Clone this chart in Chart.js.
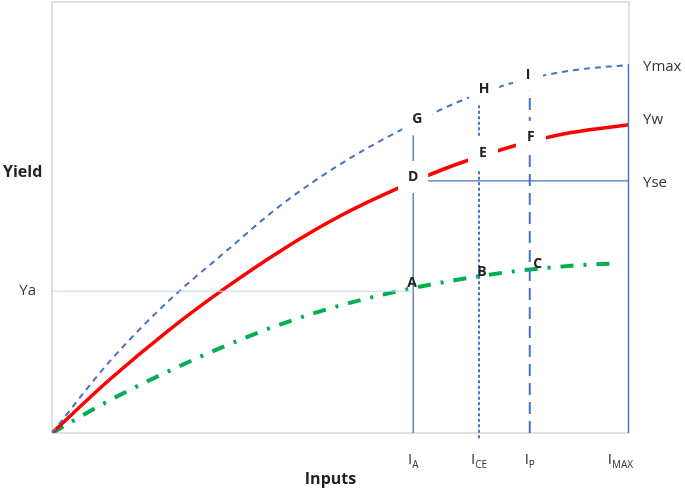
<!DOCTYPE html>
<html>
<head>
<meta charset="utf-8">
<script src="https://cdn.jsdelivr.net/npm/chart.js@4"></script>
<style>
    body { margin: 0; background: #fff; }
</style>
</head>
<body>
<canvas id="yieldChart" width="685" height="490"></canvas>
<script>
// input levels on the x axis: IA, ICE, IP, IMAX
const inputLevels = [62.6, 74.0, 82.8, 100];
const inputTickLabels = [['I', 'A'], ['I', 'CE'], ['I', 'P'], ['I', 'MAX']];

// Ymax curve (blue dashed)
const ymaxInputs = [0, 10, 20, 30, 40, 50, 60, 70, 80, 90, 100];
const ymaxYields = [0, 16.6, 30.4, 42.0, 53.2, 62.4, 70.0, 76.6, 81.3, 84.1, 85.4];

// Yw curve (red)
const ywInputs = [0, 10, 20, 30, 40, 50, 60, 70, 80, 90, 100];
const ywYields = [0, 12.4, 23.6, 33.6, 42.6, 50.4, 56.8, 62.3, 66.6, 69.7, 71.5];

// Ya curve (green dash-dot)
const yaInputs = [0, 10, 20, 30, 40, 50, 60, 70, 80, 90, 98.1];
const yaYields = [0, 7.6, 14.2, 20.2, 25.4, 29.6, 32.9, 35.5, 37.5, 38.8, 39.4];

// tops of the vertical input lines (where they meet the Ymax curve)
const inputLineTops = [73.3, 79.0, 82.6, 85.4];

// yield levels
const yaLevel = 32.9;
const yseLevel = 58.5;
const rightLabels = ['Ymax', 'Yw', 'Yse'];
const rightLevels = [85.0, 72.6, 58.0];

// point labels A..I
const pointNames = ['G', 'D', 'H', 'E', 'I', 'F', 'A', 'B', 'C'];
const pointInputs = [63.3, 62.6, 74.9, 74.7, 82.5, 83.0, 62.4, 74.5, 84.2];
const pointYields = [72.8, 59.4, 79.8, 64.9, 83.1, 68.7, 34.8, 37.3, 39.2];
const pointMasked = [true, true, true, true, true, true, false, false, false];

const blue = '#4472c4';

function toPoints(xs, ys) {
    return xs.map(function (x, i) { return { x: x, y: ys[i] }; });
}

function verticalLine(i, bottom) {
    return [{ x: inputLevels[i], y: bottom }, { x: inputLevels[i], y: inputLineTops[i] }];
}

const labelsPlugin = {
    id: 'labelsPlugin',
    beforeDatasetsDraw: function (chart) {
        const ctx = chart.ctx;
        const a = chart.chartArea;
        ctx.save();
        ctx.strokeStyle = '#d6d6d6';
        ctx.lineWidth = 1.5;
        ctx.strokeRect(a.left, a.top, a.right - a.left, a.bottom - a.top);
        ctx.restore();
    },
    afterDatasetsDraw: function (chart) {
        const ctx = chart.ctx;
        const a = chart.chartArea;
        const xs = chart.scales.x;
        const ys = chart.scales.y;
        ctx.save();

        // point labels with white masks
        ctx.textAlign = 'center';
        ctx.textBaseline = 'middle';
        ctx.font = 'bold 14px "Open Sans", "Liberation Sans", sans-serif';
        pointNames.forEach(function (name, i) {
            const px = xs.getPixelForValue(pointInputs[i]);
            const py = ys.getPixelForValue(pointYields[i]);
            if (pointMasked[i]) {
                ctx.fillStyle = '#ffffff';
                ctx.fillRect(px - 15, py - 16, 30, 32);
            }
            ctx.fillStyle = '#222222';
            ctx.fillText(name, px, py);
        });

        // right side labels
        ctx.font = '15px "Open Sans", "Liberation Sans", sans-serif';
        ctx.fillStyle = '#333333';
        ctx.textAlign = 'left';
        rightLabels.forEach(function (text, i) {
            ctx.fillText(text, a.right + 14, ys.getPixelForValue(rightLevels[i]));
        });

        // Ya on the left
        ctx.textAlign = 'right';
        ctx.fillText('Ya', a.left - 16, ys.getPixelForValue(yaLevel));

        // axis titles
        ctx.font = 'bold 16px "Open Sans", "Liberation Sans", sans-serif';
        ctx.fillStyle = '#222222';
        ctx.textAlign = 'left';
        ctx.fillText('Yield', 3, a.top + 170);
        ctx.textAlign = 'center';
        ctx.fillText('Inputs', (a.left + a.right) / 2 - 10, a.bottom + 46);

        // x tick labels with subscripts
        ctx.fillStyle = '#333333';
        inputTickLabels.forEach(function (parts, i) {
            const mainFont = '15px "Open Sans", "Liberation Sans", sans-serif';
            const subFont = '10px "Open Sans", "Liberation Sans", sans-serif';
            ctx.font = mainFont;
            const w1 = ctx.measureText(parts[0]).width;
            ctx.font = subFont;
            const w2 = ctx.measureText(parts[1]).width;
            let start = xs.getPixelForValue(inputLevels[i]) - (w1 + w2) / 2;
            if (start + w1 + w2 > a.right + 4) {
                start = a.right + 4 - w1 - w2;
            }
            const base = a.bottom + 31;
            ctx.textAlign = 'left';
            ctx.textBaseline = 'alphabetic';
            ctx.font = mainFont;
            ctx.fillText(parts[0], start, base);
            ctx.font = subFont;
            ctx.fillText(parts[1], start + w1, base + 4);
        });

        ctx.restore();
    }
};

function initChart() {
    const chartControl = document.getElementById('yieldChart');

    new Chart(chartControl, {
        type: 'line',
        data: {
            datasets: [
                {
                    data: [{ x: 0, y: yaLevel }, { x: inputLevels[0], y: yaLevel }],
                    borderColor: '#c8d5ef',
                    borderWidth: 1
                },
                {
                    data: [{ x: inputLevels[0], y: yseLevel }, { x: inputLevels[3], y: yseLevel }],
                    borderColor: blue,
                    borderWidth: 1.3
                },
                {
                    data: verticalLine(0, 0),
                    borderColor: blue,
                    borderWidth: 1.3
                },
                {
                    data: verticalLine(1, -1.2),
                    borderColor: blue,
                    borderWidth: 2,
                    borderDash: [3, 2.5],
                    clip: false
                },
                {
                    data: verticalLine(2, 0),
                    borderColor: blue,
                    borderWidth: 2,
                    borderDash: [12, 7]
                },
                {
                    data: verticalLine(3, 0),
                    borderColor: blue,
                    borderWidth: 2.5
                },
                {
                    data: toPoints(ymaxInputs, ymaxYields),
                    borderColor: blue,
                    borderWidth: 2,
                    borderDash: [6, 5],
                    cubicInterpolationMode: 'monotone'
                },
                {
                    data: toPoints(ywInputs, ywYields),
                    borderColor: '#ff0000',
                    borderWidth: 3.5,
                    cubicInterpolationMode: 'monotone'
                },
                {
                    data: toPoints(yaInputs, yaYields),
                    borderColor: '#00b050',
                    borderWidth: 4,
                    borderDash: [13, 10, 3, 10],
                    cubicInterpolationMode: 'monotone'
                }
            ]
        },
        options: {
            responsive: false,
            animation: false,
            layout: {
                padding: { left: 52, right: 56, top: 2, bottom: 57 }
            },
            elements: {
                point: { radius: 0 }
            },
            scales: {
                x: { type: 'linear', min: 0, max: 100, display: false },
                y: { type: 'linear', min: 0, max: 100, display: false }
            },
            plugins: {
                legend: { display: false },
                tooltip: { enabled: false }
            }
        },
        plugins: [labelsPlugin]
    });
}

initChart();
</script>
</body>
</html>
